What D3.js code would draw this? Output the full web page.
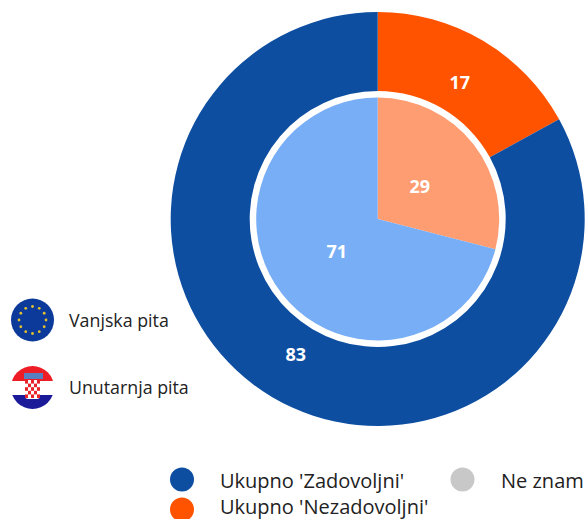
<!DOCTYPE html>
<html><head><meta charset="utf-8">
<script src="https://cdn.jsdelivr.net/npm/d3@7"></script>
<style>html,body{margin:0;padding:0;background:#fff}svg{display:block}text{font-family:"Open Sans",Lato,sans-serif}</style>
</head><body><svg id="c" width="585" height="519"></svg>
<script>
const categories = ["Ukupno 'Nezadovoljni'", "Ukupno 'Zadovoljni'"];
const outerValues = [17, 83];
const innerValues = [29, 71];
const outerColors = ["#ff5300", "#0d4ea1"];
const innerColors = ["#ff9d72", "#78aef5"];
const pieLegend = ["Vanjska pita", "Unutarnja pita"];
const legendItems = [
  {label:"Ukupno 'Zadovoljni'", color:"#0d4ea1", x:182, y:479.5, ty:480, tx:220},
  {label:"Ukupno 'Nezadovoljni'", color:"#ff5300", x:182, y:509.5, ty:506.5, tx:220},
  {label:"Ne znam", color:"#c8c8c8", x:462.5, y:479.5, ty:480, tx:501}
];
const svg = d3.select("#c");
const cx = 377.7, cy = 219;
const root = svg.append("g").attr("transform", `translate(${cx},${cy})`);
const pie = d3.pie().sort(null).value(d => d);
const outerArc = d3.arc().innerRadius(128).outerRadius(207);
const innerArc = d3.arc().innerRadius(0).outerRadius(121.5);

root.selectAll(".o").data(pie(outerValues)).join("path").attr("d", outerArc).attr("fill", (d,i)=>outerColors[i]);
root.selectAll(".i").data(pie(innerValues)).join("path").attr("d", innerArc).attr("fill", (d,i)=>innerColors[i]);

root.selectAll(".ol").data(pie(outerValues)).join("text")
  .attr("transform", (d,i)=>{const p = i==0 ? [82,-137] : [-82,135]; return `translate(${p})`;})
  .attr("text-anchor","middle").attr("dominant-baseline","central")
  .attr("fill","#fff").attr("font-weight",700).attr("font-size",18).text(d=>d.value);
root.selectAll(".il").data(pie(innerValues)).join("text")
  .attr("transform", (d,i)=>{const p = i==0 ? [42,-33] : [-41,31.5]; return `translate(${p})`;})
  .attr("text-anchor","middle").attr("dominant-baseline","central")
  .attr("fill","#fff").attr("font-weight",700).attr("font-size",18).text(d=>d.value);

// Flags
const defs = svg.append("defs");
defs.append("clipPath").attr("id","hr").append("circle").attr("cx",32.5).attr("cy",387.5).attr("r",21.5);
const eu = svg.append("g");
eu.append("circle").attr("cx",32.5).attr("cy",320).attr("r",21.5).attr("fill","#0b3a9a");
d3.range(12).forEach(i=>{
  const a = i*Math.PI/6;
  eu.append("circle").attr("cx",32.5+Math.sin(a)*13.5).attr("cy",320-Math.cos(a)*13.5).attr("r",1.4).attr("fill","#e0c030");
});
const hr = svg.append("g").attr("clip-path","url(#hr)");
hr.append("rect").attr("x",10).attr("y",365).attr("width",46).attr("height",16).attr("fill","#ee1c25");
hr.append("rect").attr("x",10).attr("y",381).attr("width",46).attr("height",14).attr("fill","#fff");
hr.append("rect").attr("x",10).attr("y",395).attr("width",46).attr("height",15).attr("fill","#1b1b9a");
hr.append("rect").attr("x",24).attr("y",373).attr("width",19).attr("height",6).attr("fill","#5a7fc0");
hr.append("rect").attr("x",25).attr("y",380).attr("width",15).attr("height",19).attr("rx",3).attr("fill","#fff");
d3.range(5).forEach(r=>d3.range(5).forEach(c=>{
  if((r+c)%2==0) hr.append("rect").attr("x",25+c*3).attr("y",380+r*3.6).attr("width",3).attr("height",3.6).attr("fill","#e8232a");
}));

svg.selectAll(".pl").data(pieLegend).join("text")
  .attr("x",69).attr("y",(d,i)=>i==0?319.5:386.5).attr("dominant-baseline","central")
  .attr("font-size",17.8).attr("fill","#222").text(d=>d);

svg.selectAll(".lc").data(legendItems).join("circle")
  .attr("cx",d=>d.x).attr("cy",d=>d.y).attr("r",12).attr("fill",d=>d.color);
svg.selectAll(".lt").data(legendItems).join("text")
  .attr("x",d=>d.tx).attr("y",d=>d.ty).attr("dominant-baseline","central")
  .attr("font-size",20).attr("fill","#222").text(d=>d.label);
</script></body></html>
